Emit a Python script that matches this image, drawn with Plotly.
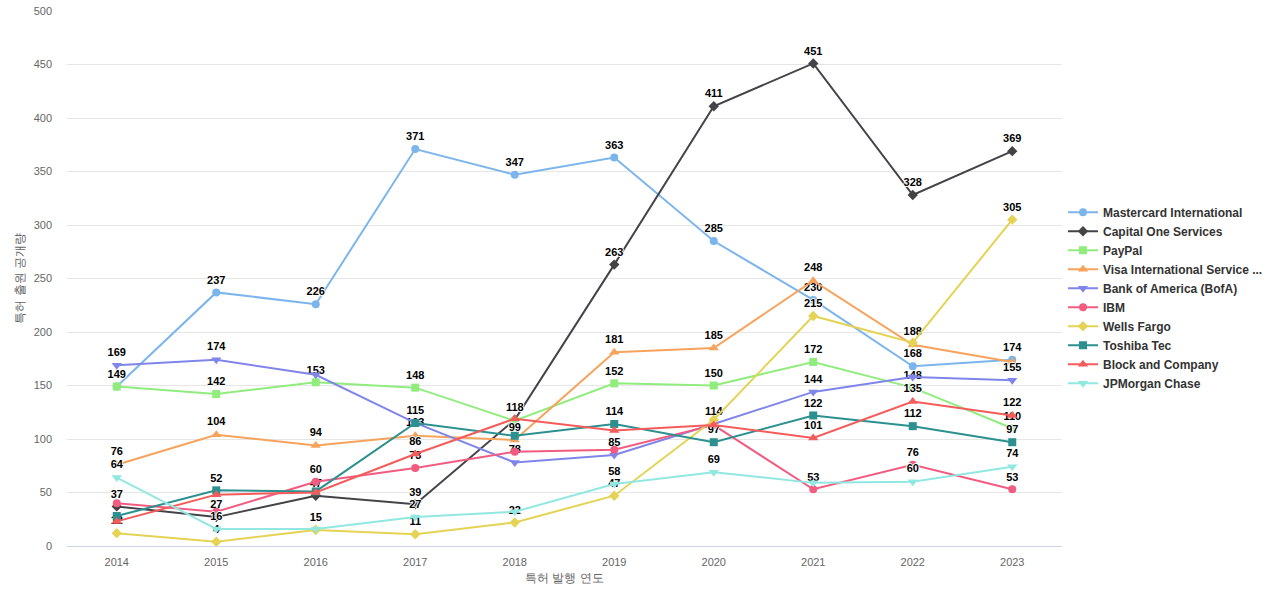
import plotly.graph_objects as go

years = ["2014", "2015", "2016", "2017", "2018", "2019", "2020", "2021", "2022", "2023"]

mastercard = [149, 237, 226, 371, 347, 363, 285, 230, 168, 174]
capital_one = [37, 27, 47, 39, 118, 263, 411, 451, 328, 369]
paypal = [149, 142, 153, 148, 117, 152, 150, 172, 148, 110]
visa = [76, 104, 94, 103, 99, 181, 185, 248, 188, 172]
bofa = [169, 174, 160, 115, 78, 85, 114, 144, 158, 155]
ibm = [40, 32, 60, 73, 88, 90, 113, 53, 76, 53]
wells_fargo = [12, 4, 15, 11, 22, 47, 118, 215, 190, 305]
toshiba = [28, 52, 51, 115, 103, 114, 97, 122, 112, 97]
block = [23, 48, 50, 86, 119, 108, 113, 101, 135, 122]
jpmorgan = [64, 16, 16, 27, 32, 58, 69, 59, 60, 74]

series_names = [
    "Mastercard International", "Capital One Services", "PayPal",
    "Visa International Service ...", "Bank of America (BofA)", "IBM",
    "Wells Fargo", "Toshiba Tec", "Block and Company", "JPMorgan Chase",
]
series_values = [mastercard, capital_one, paypal, visa, bofa, ibm,
                 wells_fargo, toshiba, block, jpmorgan]

# data labels hidden because they overlap others (series name -> years)
hidden_labels = {
    "PayPal": ["2014", "2018"],
    "IBM": ["2014", "2015", "2018", "2019", "2020"],
    "Toshiba Tec": ["2014", "2016", "2018"],
    "Block and Company": ["2014", "2015", "2016", "2018", "2019", "2020"],
    "Bank of America (BofA)": ["2016", "2017", "2022"],
    "JPMorgan Chase": ["2016", "2018", "2021"],
    "Wells Fargo": ["2020", "2022"],
    "Visa International Service ...": ["2023"],
}

colors = ["#7cb5ec", "#434348", "#90ed7d", "#f7a35c", "#8085e9",
          "#f15c80", "#e4d354", "#2b908f", "#f45b5b", "#91e8e1"]
symbols = ["circle", "diamond", "square", "triangle-up", "triangle-down",
           "circle", "diamond", "square", "triangle-up", "triangle-down"]

FONT = "Liberation Sans, Arial, Helvetica, sans-serif"
OUTLINE = "1px 0 0 #fff, -1px 0 0 #fff, 0 1px 0 #fff, 0 -1px 0 #fff"

fig = go.Figure()
for name, vals, col, sym in zip(series_names, series_values, colors, symbols):
    hid = hidden_labels.get(name, [])
    texts = ["" if y in hid else str(v) for y, v in zip(years, vals)]
    fig.add_trace(go.Scatter(
        x=list(range(len(years))), y=vals, name=name,
        mode="lines+markers+text",
        line=dict(color=col, width=2),
        marker=dict(symbol=sym, size=8 if sym not in ("triangle-up", "triangle-down") else 9, color=col),
        text=texts, textposition="top center",
        textfont=dict(family=FONT, size=11, color="#000000", weight="bold", shadow=OUTLINE),
        cliponaxis=False,
    ))

fig.update_layout(
    width=1280, height=600,
    margin=dict(l=67, r=218, t=11, b=54, autoexpand=False),
    paper_bgcolor="white", plot_bgcolor="white",
    font=dict(family=FONT, color="#666666"),
    showlegend=True,
    legend=dict(
        x=1.001, xanchor="left", y=0.464, yanchor="middle",
        font=dict(family=FONT, size=12, color="#333333", weight="bold"),
        bgcolor="rgba(0,0,0,0)",
    ),
    xaxis=dict(
        tickmode="array", tickvals=list(range(len(years))), ticktext=years,
        range=[-0.5, len(years) - 0.5],
        showgrid=False, zeroline=False, automargin=False,
        showline=True, linecolor="#ccd6eb", linewidth=1,
        tickfont=dict(size=11, color="#666666"),
        ticklabelstandoff=6,
        ticklabeloverflow="allow",
        title=dict(text="특허 발행 연도", font=dict(size=12, color="#666666"), standoff=6),
    ),
    yaxis=dict(
        range=[0, 500], tickmode="linear", tick0=0, dtick=50,
        showgrid=True, gridcolor="#e6e6e6", gridwidth=1,
        zeroline=False, showline=False, automargin=False,
        tickfont=dict(size=11, color="#666666"),
        ticklabelstandoff=14,
        ticklabeloverflow="allow",
        title=dict(text="특허 출원 공개량", font=dict(size=12, color="#666666"), standoff=6),
    ),
)

fig.write_html("out.html", config={"displayModeBar": False},
               post_script="document.body.style.margin='0';")
